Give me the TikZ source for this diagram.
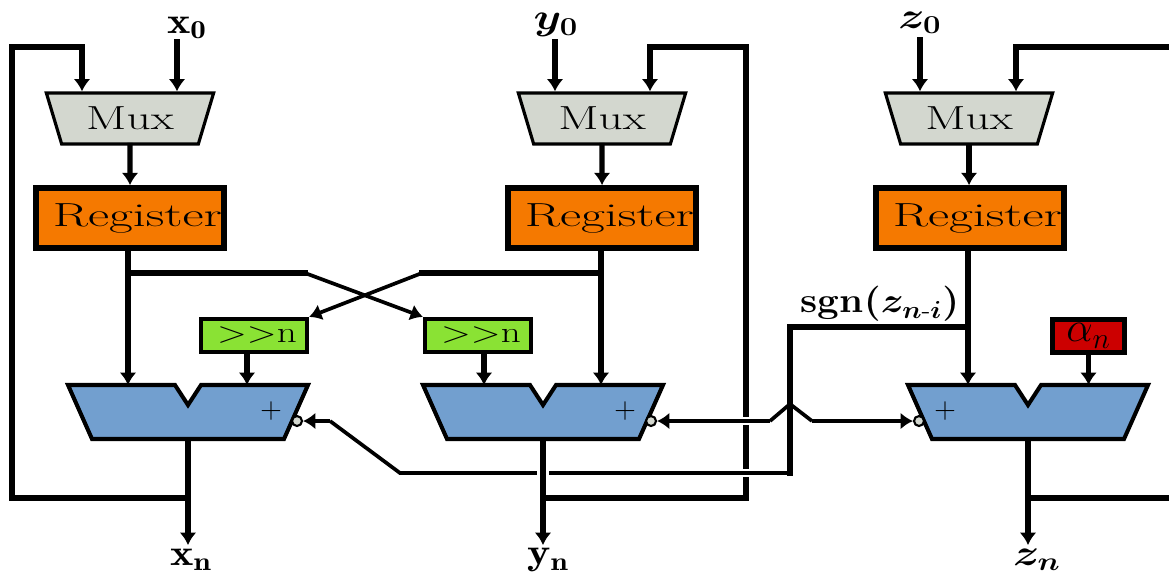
\documentclass[tikz,border=0pt]{standalone}
\usepackage{fix-cm}
\usepackage{amsmath}
\usepackage{fontspec}
\usepackage{graphicx}
\usepackage{tikz}
\usetikzlibrary{arrows.meta,positioning,calc,shapes.geometric}
\definecolor{muxgray}{HTML}{D3D7CF}
\definecolor{regorange}{HTML}{F57900}
\definecolor{shiftgreen}{HTML}{8AE234}
\definecolor{alublue}{HTML}{729FCF}
\definecolor{romred}{HTML}{CC0000}
\newcommand{\wide}[2]{\scalebox{#1}[1]{#2}}
\newcommand{\bmath}[1]{\mbox{\boldmath$#1$}}
\newcommand{\aluunit}[2]{%
  \coordinate (#1) at (#2,412);
  \coordinate (#1n) at (#2,385);
  \coordinate (#1s) at (#2,442);
  \draw[alubody] ($(#1)+(-120,-27)$) -- ($(#1)+(-13,-27)$) -- ($(#1)+(0,-7)$) -- ($(#1)+(13,-27)$)
    -- ($(#1)+(120,-27)$) -- ($(#1)+(96,27)$) -- ($(#1)+(-96,27)$) -- cycle;
}

\begin{document}
\begin{tikzpicture}[
  x=0.02cm,y=-0.02cm,
  muxb/.style={trapezium,trapezium stretches=true,trapezium angle=67,shape border rotate=180,
    draw=black,line width=1.8pt,fill=muxgray,minimum width=3.35cm,minimum height=1.02cm,inner sep=0pt,
    font=\fontsize{19}{20}\selectfont},
  regb/.style={rectangle,draw=black,line width=3.2pt,fill=regorange,minimum width=3.76cm,minimum height=1.2cm,
    inner sep=0pt,font=\fontsize{19}{20}\selectfont},
  shiftb/.style={rectangle,draw=black,line width=2.4pt,fill=shiftgreen,minimum width=2.12cm,minimum height=0.66cm,
    inner sep=0pt,font=\fontsize{17}{20}\selectfont},
  romb/.style={rectangle,draw=black,line width=2.4pt,fill=romred,minimum width=1.44cm,minimum height=0.66cm,
    inner sep=0pt,font=\fontsize{24}{26}\selectfont},
  alubody/.style={draw=black,line width=2.3pt,fill=alublue,line join=miter},
  inv/.style={circle,draw=black,line width=1.2pt,fill=muxgray,minimum size=0.2cm,inner sep=0pt},
  wire/.style={line width=3.1pt,line cap=rect},
  thinw/.style={line width=2.1pt},
  arr/.style={-{Latex[length=7pt,width=9.5pt]}},
  halo/.style={white,line width=5pt},
  plusl/.style={font=\fontsize{17}{20}\selectfont,inner sep=0pt},
  sig/.style={font=\fontsize{21}{22}\selectfont,inner sep=0pt},
  sgnb/.style={font=\fontsize{20}{22}\selectfont,inner sep=0pt}
]
\useasboundingbox (0,0) rectangle (1169,576);

% blocks
\node[muxb] (muxx) at (130,118.5) {\wide{1.42}{Mux}};
\node[muxb] (muxy) at (602,118.5) {\wide{1.42}{Mux}};
\node[muxb] (muxz) at (969,118.5) {\wide{1.42}{Mux}};
\node[regb] (regx) at (130,218) {\hspace{3mm}\wide{1.55}{Register}};
\node[regb] (regy) at (602,218) {\hspace{3mm}\wide{1.55}{Register}};
\node[regb] (regz) at (970,218) {\hspace{3mm}\wide{1.55}{Register}};
\node[shiftb] (shiftx) at (254,335.5) {\hspace{1.2mm}\wide{1.31}{$>>$n}};
\node[shiftb] (shifty) at (478,335.5) {\hspace{1.2mm}\wide{1.31}{$>>$n}};
\node[romb] (alpha) at (1088.5,336) {\mbox{$\alpha_n$}};
\aluunit{alux}{188}
\aluunit{aluy}{543}
\aluunit{aluz}{1028}
\node[plusl] (plusx) at (271,411) {\mbox{$+$}};
\node[plusl] (plusy) at (625,411) {\mbox{$+$}};
\node[plusl] (plusz) at (945,411) {\mbox{$+$}};

% labels
\node[sig] (xin) at (187,28) {\wide{1.2}{$\mathbf{x_0}$}};
\node[sig] (yin) at (556,25) {\wide{1.2}{\bmath{y_0}}};
\node[sig] (zin) at (920,23) {\wide{1.2}{\bmath{z_0}}};
\node[sig] (xout) at (191,560) {\wide{1.2}{$\mathbf{x_n}$}};
\node[sig] (yout) at (548,560) {\wide{1.2}{$\mathbf{y_n}$}};
\node[sig] (zout) at (1037,560) {\wide{1.2}{\bmath{z_n}}};
\node[sgnb] (sgnl) at (880,304) {\wide{1.1}{\textbf{sgn}\bmath{(z_{n\text{-}i})}}};

% inputs and mux to register
\coordinate (xinb) at (177,42);
\coordinate (yinb) at (555,42);
\coordinate (zinb) at (920,40);
\draw[wire,arr] (xinb) -- (xinb |- muxx.north);
\draw[wire,arr] (yinb) -- (yinb |- muxy.north);
\draw[wire,arr] (zinb) -- (zinb |- muxz.north);
\draw[wire,arr] (muxx.south) -- (regx.north);
\draw[wire,arr] (muxy.south) -- (regy.north);
\draw[wire,arr] (muxz.south) -- (muxz.south |- regz.north);

% registers to adders
\coordinate (regxn) at (128,385);
\draw[wire,arr] (regx.south -| regxn) -- (regxn);
\coordinate (regyn) at (601,385);
\draw[wire,arr] (regy.south -| regyn) -- (regyn);
\coordinate (regzn) at (968,385);
\draw[wire,arr] (regz.south -| regzn) -- (regzn);
\coordinate (shiftxn) at (247,385);
\draw[wire,arr] (shiftx.south -| shiftxn) -- (shiftxn);
\coordinate (shiftyn) at (484,385);
\draw[wire,arr] (shifty.south -| shiftyn) -- (shiftyn);
\draw[wire,arr] (alpha.south) -- (alpha.south |- aluzn);

% cross paths
\coordinate (crossl) at (305,273);
\coordinate (crossr) at (422,273);
\draw[wire] (regxn |- crossl) -- (crossl);
\draw[wire] (regyn |- crossr) -- (crossr);
\draw[thinw,arr] (crossl) -- (shifty.north west);
\draw[thinw,arr] (crossr) -- (shiftx.north east);

% feedback x
\coordinate (fbxa) at (12,498);
\coordinate (fbxb) at (12,47);
\coordinate (fbxc) at (82,47);
\coordinate (xend) at (188,545);
\draw[wire,line join=miter] (aluxs |- fbxa) -- (fbxa) -- (fbxb) -- (fbxc);
\draw[wire,arr] (fbxc) -- (fbxc |- muxx.north);
\draw[wire,arr] (aluxs) -- (xend);

% feedback y
\coordinate (fbya) at (746,498);
\coordinate (fbyb) at (746,47);
\coordinate (fbyc) at (650,47);
\draw[wire,line join=miter] (aluys |- fbya) -- (fbya) -- (fbyb) -- (fbyc);
\draw[wire,arr] (fbyc) -- (fbyc |- muxy.north);

% feedback z
\coordinate (fbza) at (1173,498);
\coordinate (fbzb) at (1173,47);
\coordinate (fbzc) at (1016,47);
\coordinate (zend) at (1028,545);
\draw[wire,line join=miter] (aluzs |- fbza) -- (fbza) -- (fbzb) -- (fbzc);
\draw[wire,arr] (fbzc) -- (fbzc |- muxz.north);
\draw[wire,arr] (aluzs) -- (zend);

% sign wire
\node[inv] (invx) at (297,421) {};
\node[inv] (invy) at (651,421) {};
\node[inv] (invz) at (919,421) {};
\coordinate (sgna) at (968,327);
\coordinate (sgnb) at (790,327);
\coordinate (sgnc) at (790,473);
\coordinate (sgnd) at (400,473);
\coordinate (sgne) at (330,421);
\coordinate (bump) at (790,404);
\coordinate (bumpl) at (770,421);
\coordinate (bumpr) at (812,421);
\coordinate (gapa) at (735,473);
\coordinate (gapb) at (757,473);
\coordinate (gapc) at (735,421);
\coordinate (gapd) at (757,421);
\draw[halo] (gapa) -- (gapb);
\draw[halo] (gapc) -- (gapd);
\draw[wire,line join=miter] (sgna) -- (sgnb) -- (sgnc);
\draw[thinw,line join=miter] (sgnc) -- (sgnd) -- (sgne);
\draw[thinw,arr] (sgne) -- (invx.east);
\draw[thinw] (bump) -- (bumpl);
\draw[thinw,arr] (bumpl) -- (invy.east);
\draw[thinw] (bump) -- (bumpr);
\draw[thinw,arr] (bumpr) -- (invz.west);

% y output crosses over the sign wire
\coordinate (yend) at (543,545);
\coordinate (gape) at (543,466);
\coordinate (gapf) at (543,480);
\draw[white,line width=7pt] (gape) -- (gapf);
\draw[wire,arr] (aluys) -- (yend);
\end{tikzpicture}
\end{document}
